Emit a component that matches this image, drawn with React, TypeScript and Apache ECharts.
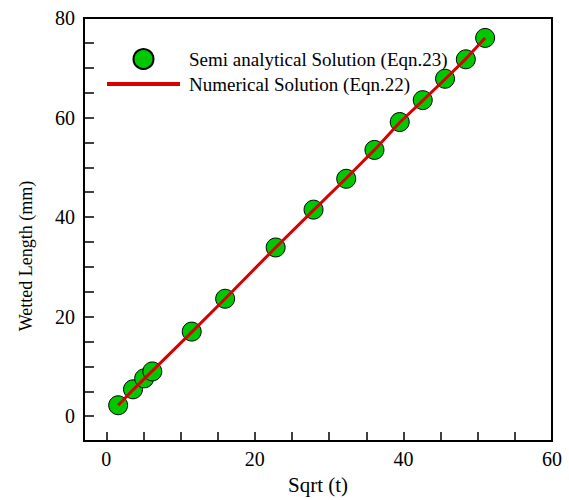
import React, { useEffect, useRef } from "react";
import * as echarts from "echarts";

const semiX = [1.6, 3.6, 5.1, 6.2, 11.5, 16.0, 22.8, 27.9, 32.3, 36.1, 39.5, 42.6, 45.6, 48.4, 51.0];
const semiY = [2.2, 5.4, 7.6, 9.0, 17.0, 23.6, 33.9, 41.5, 47.7, 53.5, 59.1, 63.5, 67.8, 71.7, 76.0];
const numX = [1.6, 3.6, 5.1, 6.2, 11.5, 16.0, 22.8, 27.9, 32.3, 36.1, 39.5, 42.6, 45.6, 48.4, 51.0];
const numY = [2.2, 5.3, 7.5, 9.1, 16.9, 23.6, 33.9, 41.4, 47.8, 53.5, 59.0, 63.4, 67.7, 71.8, 76.0];
const xTicks = [0, 5, 10, 15, 20, 25, 30, 35, 40, 45, 50, 55, 60];
const xLabels = [0, 20, 40, 60];
const yTicks = [0, 5, 10, 15, 20, 25, 30, 35, 40, 45, 50, 55, 60, 65, 70, 75, 80];
const yLabels = [0, 20, 40, 60, 80];
const seriesNames = ["Semi analytical Solution (Eqn.23)", "Numerical Solution (Eqn.22)"];

const FONT = "'Liberation Serif', 'DejaVu Serif', serif";

export default function App() {
  const ref = useRef<HTMLDivElement>(null);
  useEffect(() => {
    document.body.style.margin = "0";
    if (!ref.current) return;
    const chart = echarts.init(ref.current, null, { renderer: "svg" });
    chart.setOption({
      animation: false,
      backgroundColor: "#ffffff",
      grid: {
        left: 84,
        right: 17,
        top: 18,
        bottom: 47,
        show: true,
        borderColor: "#000",
        borderWidth: 2,
        backgroundColor: "transparent",
      },
      legend: {
        orient: "vertical",
        left: 105,
        top: 48,
        padding: 0,
        itemWidth: 73,
        itemHeight: 20,
        itemGap: 4,
        textStyle: {
          fontFamily: FONT,
          fontSize: 19,
          color: "#000",
          lineHeight: 20,
          padding: [0, 0, 0, 4],
        },
        data: [
          { name: seriesNames[0] },
          {
            name: seriesNames[1],
            itemStyle: { opacity: 0 },
            lineStyle: { width: 4, color: "#d80000" },
          },
        ],
      },
      xAxis: {
        type: "value",
        min: -3,
        max: 60,
        name: "Sqrt (t)",
        nameLocation: "middle",
        nameGap: 30,
        nameTextStyle: { fontFamily: FONT, fontSize: 21, color: "#000" },
        axisLine: { show: true, onZero: false, lineStyle: { color: "#000", width: 2 } },
        axisTick: {
          show: true,
          inside: true,
          length: 9,
          customValues: xTicks,
          lineStyle: { color: "#000", width: 1.5 },
        },
        axisLabel: {
          customValues: xLabels,
          fontFamily: FONT,
          fontSize: 20,
          color: "#000",
          margin: 8,
        },
        splitLine: { show: false },
      },
      yAxis: {
        type: "value",
        min: -5,
        max: 80,
        axisLine: { show: true, onZero: false, lineStyle: { color: "#000", width: 2 } },
        axisTick: {
          show: true,
          inside: true,
          length: 10,
          customValues: yTicks,
          lineStyle: { color: "#000", width: 1.5 },
        },
        axisLabel: {
          customValues: yLabels,
          fontFamily: FONT,
          fontSize: 20,
          color: "#000",
          margin: 9,
        },
        splitLine: { show: false },
      },
      graphic: [
        {
          type: "text",
          x: 26,
          y: 256,
          rotation: Math.PI / 2,
          style: {
            text: "Wetted Length (mm)",
            fontFamily: FONT,
            fontSize: 18,
            fill: "#000",
            align: "center",
            verticalAlign: "middle",
          },
        },
      ],
      series: [
        {
          name: seriesNames[0],
          type: "scatter",
          symbol: "circle",
          symbolSize: 19,
          z: 2,
          itemStyle: { color: "#00c800", borderColor: "#000", borderWidth: 1, opacity: 1 },
          data: semiX.map((x, i) => [x, semiY[i]]),
        },
        {
          name: seriesNames[1],
          type: "line",
          symbol: "none",
          z: 3,
          lineStyle: { color: "#d80000", width: 3 },
          itemStyle: { color: "#d80000" },
          data: numX.map((x, i) => [x, numY[i]]),
        },
      ],
    });
    return () => chart.dispose();
  }, []);
  return <div ref={ref} style={{ width: 569, height: 500 }} />;
}
